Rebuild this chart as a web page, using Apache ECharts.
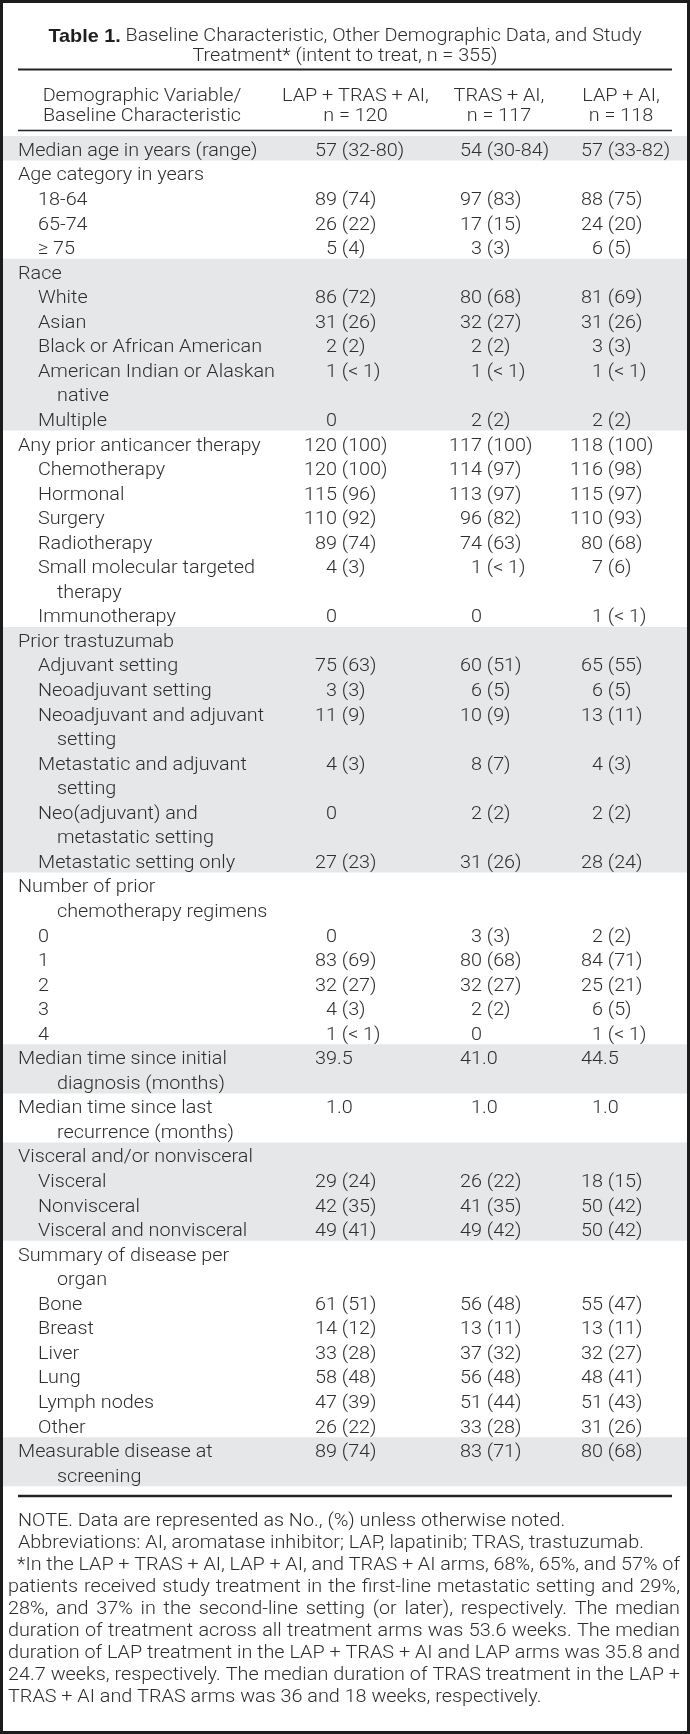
<!DOCTYPE html>
<html><head><meta charset="utf-8">
<script src="https://cdn.jsdelivr.net/npm/echarts@6/dist/echarts.min.js"></script>
<style>html,body{margin:0;padding:0;background:#fff}#c{width:690px;height:1734px}</style>
</head><body><div id="c"></div>
<script>
// ---------------- data ----------------
const titleBold = 'Table 1.';
const titleLine1 = ' Baseline Characteristic, Other Demographic Data, and Study';
const titleLine2 = 'Treatment* (intent to treat, n = 355)';
const stubHeader = ['Demographic Variable/', 'Baseline Characteristic'];
const armHeaders = [['LAP + TRAS + AI,', 'n = 120'], ['TRAS + AI,', 'n = 117'], ['LAP + AI,', 'n = 118']];

const rowLabels = [
  'Median age in years (range)', 'Age category in years', '18-64', '65-74', '\u2265 75',
  'Race', 'White', 'Asian', 'Black or African American', 'American Indian or Alaskan\nnative', 'Multiple',
  'Any prior anticancer therapy', 'Chemotherapy', 'Hormonal', 'Surgery', 'Radiotherapy',
  'Small molecular targeted\ntherapy', 'Immunotherapy',
  'Prior trastuzumab', 'Adjuvant setting', 'Neoadjuvant setting', 'Neoadjuvant and adjuvant\nsetting',
  'Metastatic and adjuvant\nsetting', 'Neo(adjuvant) and\nmetastatic setting', 'Metastatic setting only',
  'Number of prior\nchemotherapy regimens', '0', '1', '2', '3', '4',
  'Median time since initial\ndiagnosis (months)', 'Median time since last\nrecurrence (months)',
  'Visceral and/or nonvisceral', 'Visceral', 'Nonvisceral', 'Visceral and nonvisceral',
  'Summary of disease per\norgan', 'Bone', 'Breast', 'Liver', 'Lung', 'Lymph nodes', 'Other',
  'Measurable disease at\nscreening'
];
const rowIndent = [
  0, 0, 1, 1, 1,
  0, 1, 1, 1, 1, 1,
  0, 1, 1, 1, 1, 1, 1,
  0, 1, 1, 1, 1, 1, 1,
  0, 1, 1, 1, 1, 1,
  0, 0,
  0, 1, 1, 1,
  0, 1, 1, 1, 1, 1, 1,
  0
];
const lapTrasAi = [
  '57 (32-80)', '', '89 (74)', '26 (22)', '5 (4)',
  '', '86 (72)', '31 (26)', '2 (2)', '1 (< 1)', '0',
  '120 (100)', '120 (100)', '115 (96)', '110 (92)', '89 (74)', '4 (3)', '0',
  '', '75 (63)', '3 (3)', '11 (9)', '4 (3)', '0', '27 (23)',
  '', '0', '83 (69)', '32 (27)', '4 (3)', '1 (< 1)',
  '39.5', '1.0',
  '', '29 (24)', '42 (35)', '49 (41)',
  '', '61 (51)', '14 (12)', '33 (28)', '58 (48)', '47 (39)', '26 (22)',
  '89 (74)'
];
const trasAi = [
  '54 (30-84)', '', '97 (83)', '17 (15)', '3 (3)',
  '', '80 (68)', '32 (27)', '2 (2)', '1 (< 1)', '2 (2)',
  '117 (100)', '114 (97)', '113 (97)', '96 (82)', '74 (63)', '1 (< 1)', '0',
  '', '60 (51)', '6 (5)', '10 (9)', '8 (7)', '2 (2)', '31 (26)',
  '', '3 (3)', '80 (68)', '32 (27)', '2 (2)', '0',
  '41.0', '1.0',
  '', '26 (22)', '41 (35)', '49 (42)',
  '', '56 (48)', '13 (11)', '37 (32)', '56 (48)', '51 (44)', '33 (28)',
  '83 (71)'
];
const lapAi = [
  '57 (33-82)', '', '88 (75)', '24 (20)', '6 (5)',
  '', '81 (69)', '31 (26)', '3 (3)', '1 (< 1)', '2 (2)',
  '118 (100)', '116 (98)', '115 (97)', '110 (93)', '80 (68)', '7 (6)', '1 (< 1)',
  '', '65 (55)', '6 (5)', '13 (11)', '4 (3)', '2 (2)', '28 (24)',
  '', '2 (2)', '84 (71)', '25 (21)', '6 (5)', '1 (< 1)',
  '44.5', '1.0',
  '', '18 (15)', '50 (42)', '50 (42)',
  '', '55 (47)', '13 (11)', '32 (27)', '48 (41)', '51 (43)', '31 (26)',
  '80 (68)'
];
const arms = [lapTrasAi, trasAi, lapAi];

const noteLines = [
  'NOTE. Data are represented as No., (%) unless otherwise noted.',
  'Abbreviations: AI, aromatase inhibitor; LAP, lapatinib; TRAS, trastuzumab.',
  '*In the LAP + TRAS + AI, LAP + AI, and TRAS + AI arms, 68%, 65%, and 57% of',
  'patients received study treatment in the first-line metastatic setting and 29%,',
  '28%, and 37% in the second-line setting (or later), respectively. The median',
  'duration of treatment across all treatment arms was 53.6 weeks. The median',
  'duration of LAP treatment in the LAP + TRAS + AI and LAP arms was 35.8 and',
  '24.7 weeks, respectively. The median duration of TRAS treatment in the LAP +',
  'TRAS + AI and TRAS arms was 36 and 18 weeks, respectively.'
];

// ---------------- layout / style ----------------
const W = 690, H = 1734;
const FONT = "Roboto, 'Liberation Sans', sans-serif";
const FW = 300;
const FS = 18.5;
const SX = 1.07;
const TXT = '#2e2e2e';
const SHADE = '#e6e7e8';
const RULE = '#222222';
const BAND_TOP = 136, PITCH = 24.55, TEXT_DY = 3;
const X_LABEL = [18, 38], X_WRAP = 57;
const COL_X = [337, 482, 603];
const COL_HEAD_X = [355.5, 499, 621], STUB_HEAD_X = 142;
const TITLE_Y = [36.5, 56.5], HEAD_Y = [96.5, 116.5];
const NOTE_Y0 = 1521, NOTE_PITCH = 22.0;
const noteLayout = [[18, 0, false], [18, 0, false], [17, 680, true], [8, 680, true], [8, 680, true],
  [8, 680, true], [8, 680, true], [8, 680, true], [8, 0, false]];

// derived line structure
const nLines = rowLabels.map(s => s.split('\n').length);
const lineStart = [];
let acc = 0;
nLines.forEach(n => { lineStart.push(acc); acc += n; });
const TOTAL_LINES = acc;
// sections (top-level rows start a section), alternating shading
const sections = [];
rowIndent.forEach((lv, i) => {
  if (lv === 0) sections.push([lineStart[i], nLines[i]]);
  else sections[sections.length - 1][1] += nLines[i];
});
const shadeData = sections.filter((s, k) => k % 2 === 0).map(s => [0, s[0], s[1]]);

function txt(x, y, text, align, extra, sx) {
  return {
    type: 'text', x: x, y: y, scaleX: sx || SX,
    style: Object.assign({
      x: 0, y: 0, text: text, fill: TXT, fontSize: FS, fontFamily: FONT, fontWeight: FW,
      align: align || 'left', verticalAlign: 'middle'
    }, extra || {})
  };
}

// measuring for justified footnote lines
const mctx = document.createElement('canvas').getContext('2d');
mctx.font = FW + ' ' + FS + 'px ' + FONT;
function mw(s) { return mctx.measureText(s).width; }

const graphics = [];
// frame
graphics.push({ type: 'rect', shape: { x: 1.5, y: 1.5, width: W - 3, height: H - 3 },
  style: { fill: null, stroke: '#1c1c1c', lineWidth: 3 }, z: 10 });
// title
graphics.push(txt(345, TITLE_Y[0], '{b|' + titleBold + '}' + titleLine1, 'center', {
  rich: { b: { fontWeight: 'bold', fontSize: FS, fontFamily: "'Liberation Sans Narrow', 'Liberation Sans', sans-serif", fill: '#1e1e1e' } }
}));
graphics.push(txt(345, TITLE_Y[1], titleLine2, 'center'));
// rules
graphics.push({ type: 'line', shape: { x1: 18, y1: 69.5, x2: 672, y2: 69.5 }, style: { stroke: RULE, lineWidth: 2 } });
graphics.push({ type: 'line', shape: { x1: 18, y1: 130.5, x2: 672, y2: 130.5 }, style: { stroke: RULE, lineWidth: 1.5 } });
graphics.push({ type: 'line', shape: { x1: 18, y1: 1496, x2: 672, y2: 1496 }, style: { stroke: RULE, lineWidth: 2.5 } });
// headers
stubHeader.forEach((s, k) => graphics.push(txt(STUB_HEAD_X, HEAD_Y[k], s, 'center')));
armHeaders.forEach((h, j) => h.forEach((s, k) => graphics.push(txt(COL_HEAD_X[j], HEAD_Y[k], s, 'center'))));
// notes
noteLines.forEach((line, k) => {
  const y = NOTE_Y0 + k * NOTE_PITCH;
  const [x0, x1, just] = noteLayout[k];
  if (!just) { graphics.push(txt(x0, y, line, 'left')); return; }
  const words = line.split(' ');
  const ws = words.map(w => mw(w) * SX);
  const sum = ws.reduce((a, b) => a + b, 0);
  const gap = (x1 - x0 - sum) / (words.length - 1);
  if (gap < 2.5) {
    graphics.push(txt(x0, y, line, 'left', null, (x1 - x0) / mw(line)));
  } else {
    let x = x0;
    words.forEach((w, i) => { graphics.push(txt(x, y, w, 'left')); x += ws[i] + gap; });
  }
});

const chart = echarts.init(document.getElementById('c'), null, { renderer: 'canvas' });
chart.setOption({
  animation: false,
  backgroundColor: '#ffffff',
  grid: { left: 0, right: 0, top: BAND_TOP, height: TOTAL_LINES * PITCH, containLabel: false },
  xAxis: { type: 'value', min: 0, max: W, show: false },
  yAxis: { type: 'category', inverse: true, show: false,
    data: Array.from({ length: TOTAL_LINES }, (_, k) => String(k)) },
  graphic: graphics,
  series: [
    { type: 'custom', name: 'shade', z: 1, data: shadeData, encode: { x: 0, y: 1 },
      renderItem: function (params, api) {
        const c = api.coord([0, api.value(1)]);
        const bh = api.size([0, 1])[1];
        return { type: 'rect', shape: { x: 3, y: c[1] - bh / 2, width: W - 6, height: bh * api.value(2) },
          style: { fill: SHADE } };
      } },
    { type: 'custom', name: 'labels', z: 2, encode: { x: 0, y: 1 },
      data: rowLabels.map((s, i) => [0, lineStart[i], i]),
      renderItem: function (params, api) {
        const i = api.value(2);
        const c = api.coord([0, api.value(1)]);
        const bh = api.size([0, 1])[1];
        const parts = rowLabels[i].split('\n');
        return { type: 'group', children: parts.map((p, k) =>
          txt(k === 0 ? X_LABEL[rowIndent[i]] : X_WRAP, c[1] + k * bh + TEXT_DY, p, 'left')) };
      } }
  ].concat(arms.map((vals, j) => ({
    type: 'custom', name: 'arm' + j, z: 2, encode: { x: 0, y: 1 },
    data: vals.map((v, i) => [COL_X[j], lineStart[i], i]),
    renderItem: function (params, api) {
      const i = api.value(2);
      const v = vals[i];
      if (!v) return null;
      const c = api.coord([api.value(0), api.value(1)]);
      const m = v.match(/^(\d+)(.*)$/);
      return { type: 'group', children: [
        txt(c[0], c[1] + TEXT_DY, m[1], 'right'),
        txt(c[0], c[1] + TEXT_DY, m[2], 'left')
      ] };
    }
  })))
});
</script></body></html>
